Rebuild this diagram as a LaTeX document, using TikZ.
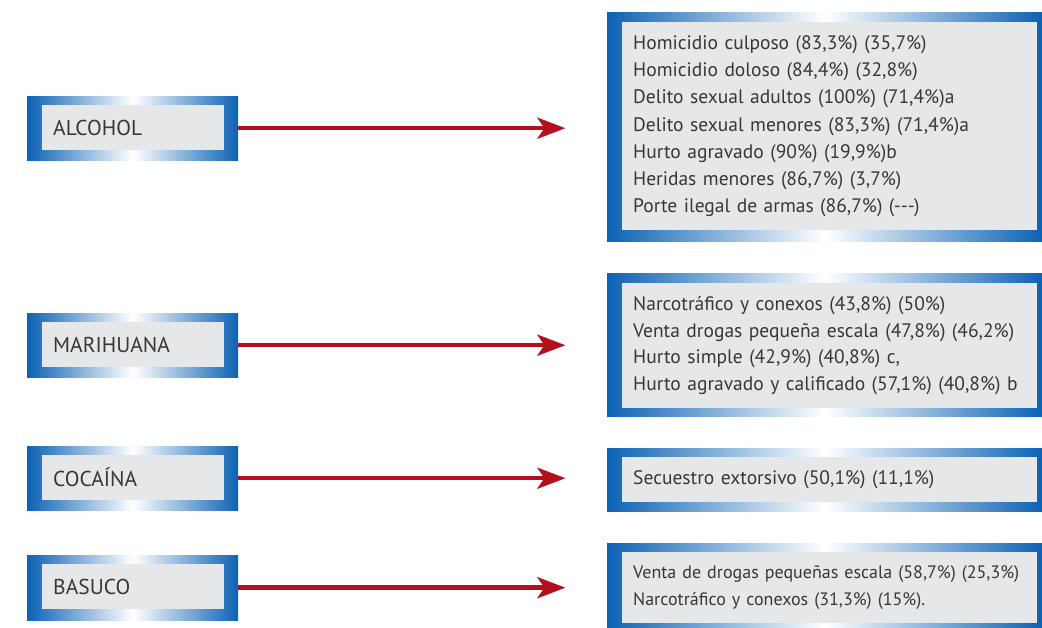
\documentclass[tikz,border=0pt]{standalone}
\usepackage{fontspec}
\setmainfont{PT Sans}
\usetikzlibrary{arrows.meta,positioning}
\definecolor{frameblue}{RGB}{12,98,180}
\definecolor{panelgrey}{RGB}{230,231,232}
\definecolor{linkred}{RGB}{178,16,28}
\definecolor{inkgrey}{RGB}{55,55,55}
\tikzset{
  frame/.style={rectangle, anchor=north west, inner sep=0pt, left color=frameblue, right color=frameblue, middle color=white},
  drug/.style={rectangle, fill=panelgrey, inner xsep=11pt, inner ysep=0pt, minimum height=45pt, text width=160pt, align=left, text=inkgrey, font=\fontsize{21.5}{24}\selectfont},
  crimes/.style={rectangle, fill=panelgrey, inner xsep=11pt, inner ysep=0pt, text width=393pt, align=left, text=inkgrey, font=\fontsize{19.5}{27.3}\selectfont},
  link/.style={draw=linkred, line width=4.5pt, -{Stealth[length=28pt, width=21pt, inset=7pt]}}
}
\begin{document}
\begin{tikzpicture}[x=1pt, y=-1pt]
    \useasboundingbox (0,0) rectangle (1042,628);

    % left column
    \node[frame, minimum width=211pt, minimum height=64pt] (alcoholframe) at (27,96) {};
    \node[drug, below right=9pt and 15pt of alcoholframe.north west] (alcohol) {ALCOHOL};
    \node[frame, minimum width=211pt, minimum height=64pt] (marihuanaframe) at (27,313) {};
    \node[drug, below right=9pt and 15pt of marihuanaframe.north west] (marihuana) {MARIHUANA};
    \node[frame, minimum width=211pt, minimum height=64pt] (cocainaframe) at (27,446) {};
    \node[drug, below right=9pt and 15pt of cocainaframe.north west] (cocaina) {COCAÍNA};
    \node[frame, minimum width=211pt, minimum height=65pt] (basucoframe) at (27,555) {};
    \node[drug, below right=9pt and 15pt of basucoframe.north west] (basuco) {BASUCO};

    % right column
    \node[frame, minimum width=435pt, minimum height=229pt] (alcoholframe2) at (607,12) {};
    \node[crimes, minimum height=208pt, below right=10pt and 15pt of alcoholframe2.north west] (alcoholcrimes)
        {Homicidio culposo (83,3\%) (35,7\%)\\
         Homicidio doloso (84,4\%) (32,8\%)\\
         Delito sexual adultos (100\%) (71,4\%)a\\
         Delito sexual menores (83,3\%) (71,4\%)a\\
         Hurto agravado (90\%) (19,9\%)b\\
         Heridas menores (86,7\%) (3,7\%)\\
         Porte ilegal de armas (86,7\%) ({-}{-}{-})};
    \node[frame, minimum width=435pt, minimum height=143pt] (marihuanaframe2) at (607,273) {};
    \node[crimes, minimum height=125pt, font=\fontsize{19.5}{26.5}\selectfont, below right=10pt and 15pt of marihuanaframe2.north west] (marihuanacrimes)
        {Narcotráfico y conexos (43,8\%) (50\%)\\
         Venta drogas pequeña escala (47,8\%) (46,2\%)\\
         Hurto simple (42,9\%) (40,8\%) c,\\
         Hurto agravado y calificado (57,1\%) (40,8\%) b};
    \node[frame, minimum width=435pt, minimum height=63pt] (cocainaframe2) at (607,448) {};
    \node[crimes, minimum height=45pt, below right=9pt and 15pt of cocainaframe2.north west] (cocainacrimes)
        {Secuestro extorsivo (50,1\%) (11,1\%)};
    \node[frame, minimum width=435pt, minimum height=85pt] (basucoframe2) at (607,543) {};
    \node[crimes, minimum height=71pt, font=\fontsize{18}{27}\selectfont, below right=9pt and 15pt of basucoframe2.north west] (basucocrimes)
        {Venta de drogas pequeñas escala (58,7\%) (25,3\%)\\
         Narcotráfico y conexos (31,3\%) (15\%).};

    % arrows
    \coordinate[right=327pt of alcoholframe.east] (alcoholtip);
    \coordinate[right=327pt of marihuanaframe.east] (marihuanatip);
    \coordinate[right=327pt of cocainaframe.east] (cocainatip);
    \coordinate[right=327pt of basucoframe.east] (basucotip);
    \draw[link] (alcoholframe.east) -- (alcoholtip);
    \draw[link] (marihuanaframe.east) -- (marihuanatip);
    \draw[link] (cocainaframe.east) -- (cocainatip);
    \draw[link] (basucoframe.east) -- (basucotip);
\end{tikzpicture}
\end{document}
